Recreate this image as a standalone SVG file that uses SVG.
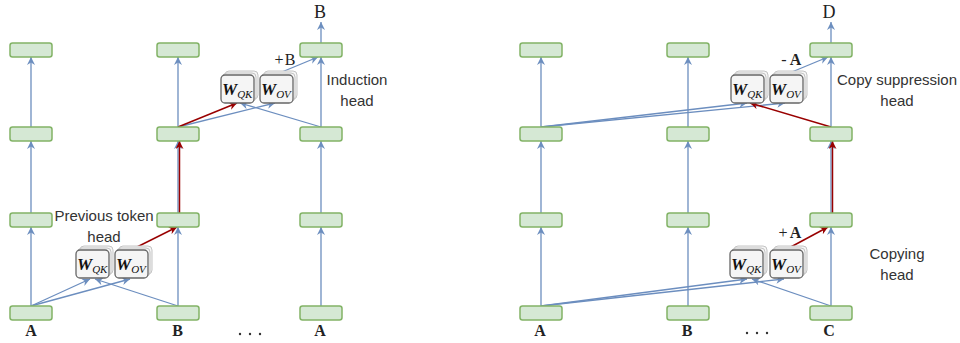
<svg xmlns="http://www.w3.org/2000/svg" width="960" height="343" viewBox="0 0 960 343">
<style>
.box{fill:#d5e8d4;stroke:#82b366;stroke-width:1.5}
.wb{fill:#f5f5f5;stroke:#666666;stroke-width:1.3}
.wbk{fill:#f5f5f5;stroke:#c4c4c4;stroke-width:1}
.b{fill:none;stroke:#6c8ebf;stroke-width:1.3}
.r{fill:none;stroke:#990000;stroke-width:1.5}
.lab{font-family:"Liberation Sans",Arial,sans-serif;font-size:15px;fill:#333333;text-anchor:middle}
.tok{font-family:"Liberation Serif","Times New Roman",serif;font-size:16px;font-weight:bold;fill:#222222;text-anchor:middle}
.out{font-family:"Liberation Serif","Times New Roman",serif;font-size:18px;fill:#222222;text-anchor:middle}
.sg{font-family:"Liberation Serif","Times New Roman",serif;font-size:16px;fill:#222222;text-anchor:middle}
.w{font-family:"Liberation Serif","Times New Roman",serif;font-size:17px;font-weight:bold;font-style:italic;fill:#111111}
.sub{font-size:11px;font-weight:normal}
.dots{fill:#333333}
</style>
<defs>
<marker id="ab" markerUnits="userSpaceOnUse" markerWidth="9" markerHeight="8" refX="8" refY="4" orient="auto">
<path d="M0,0 L8,4 L0,8 L2.5,4 z" fill="#6c8ebf"/>
</marker>
<marker id="ar" markerUnits="userSpaceOnUse" markerWidth="9" markerHeight="8" refX="8" refY="4" orient="auto">
<path d="M0,0 L8,4 L0,8 L2.5,4 z" fill="#990000"/>
</marker>
<g id="wstack">
<rect class="wbk" x="4" y="-4" width="33" height="28" rx="4"/>
<rect class="wbk" x="2" y="-2" width="33" height="28" rx="4"/>
<rect class="wb" x="0" y="0" width="33" height="28" rx="4"/>
</g>
</defs>

<g id="connectors">
<line class="b" x1="31" y1="306" x2="31" y2="227" marker-end="url(#ab)"/>
<line class="b" x1="31" y1="213" x2="31" y2="141" marker-end="url(#ab)"/>
<line class="b" x1="31" y1="127" x2="31" y2="57" marker-end="url(#ab)"/>
<line class="b" x1="178" y1="306" x2="178" y2="227" marker-end="url(#ab)"/>
<line class="b" x1="178" y1="213" x2="178" y2="141" marker-end="url(#ab)"/>
<line class="r" x1="179.5" y1="213" x2="179.5" y2="141" marker-end="url(#ar)"/>
<line class="b" x1="178" y1="127" x2="178" y2="57" marker-end="url(#ab)"/>
<line class="b" x1="321" y1="306" x2="321" y2="227" marker-end="url(#ab)"/>
<line class="b" x1="321" y1="213" x2="321" y2="141" marker-end="url(#ab)"/>
<line class="b" x1="321" y1="127" x2="321" y2="57" marker-end="url(#ab)"/>
<line class="b" x1="321" y1="43" x2="321" y2="22" marker-end="url(#ab)"/>
<line class="b" x1="31" y1="306" x2="90" y2="279" marker-end="url(#ab)"/>
<line class="b" x1="31" y1="306" x2="130" y2="279" marker-end="url(#ab)"/>
<line class="b" x1="178" y1="306" x2="95" y2="279" marker-end="url(#ab)"/>
<line class="r" x1="133" y1="249" x2="177" y2="227" marker-end="url(#ar)"/>
<line class="b" x1="178" y1="127" x2="275" y2="103" marker-end="url(#ab)"/>
<line class="b" x1="321" y1="127" x2="240" y2="103" marker-end="url(#ab)"/>
<line class="r" x1="178" y1="127" x2="237" y2="103" marker-end="url(#ar)"/>
<line class="b" x1="277" y1="74" x2="318" y2="57" marker-end="url(#ab)"/>

<line class="b" x1="541" y1="306" x2="541" y2="227" marker-end="url(#ab)"/>
<line class="b" x1="541" y1="213" x2="541" y2="141" marker-end="url(#ab)"/>
<line class="b" x1="541" y1="127" x2="541" y2="57" marker-end="url(#ab)"/>
<line class="b" x1="688" y1="306" x2="688" y2="227" marker-end="url(#ab)"/>
<line class="b" x1="688" y1="213" x2="688" y2="141" marker-end="url(#ab)"/>
<line class="b" x1="688" y1="127" x2="688" y2="57" marker-end="url(#ab)"/>
<line class="b" x1="831" y1="306" x2="831" y2="227" marker-end="url(#ab)"/>
<line class="b" x1="831" y1="213" x2="831" y2="141" marker-end="url(#ab)"/>
<line class="r" x1="832.5" y1="213" x2="832.5" y2="141" marker-end="url(#ar)"/>
<line class="b" x1="831" y1="127" x2="831" y2="57" marker-end="url(#ab)"/>
<line class="b" x1="831" y1="43" x2="831" y2="22" marker-end="url(#ab)"/>
<line class="b" x1="541" y1="306" x2="747" y2="279" marker-end="url(#ab)"/>
<line class="b" x1="541" y1="306" x2="784" y2="279" marker-end="url(#ab)"/>
<line class="b" x1="831" y1="306" x2="752" y2="279" marker-end="url(#ab)"/>
<line class="r" x1="787" y1="249" x2="828" y2="227" marker-end="url(#ar)"/>
<line class="b" x1="541" y1="127" x2="747" y2="103" marker-end="url(#ab)"/>
<line class="b" x1="541" y1="127" x2="785" y2="103" marker-end="url(#ab)"/>
<line class="r" x1="831" y1="127" x2="750" y2="103" marker-end="url(#ar)"/>
<line class="b" x1="787" y1="74" x2="828" y2="57" marker-end="url(#ab)"/>
</g>

<g id="L1r1"><rect class="box" x="10" y="43" width="42" height="14" rx="2.5"/></g>
<g id="L1r2"><rect class="box" x="10" y="127" width="42" height="14" rx="2.5"/></g>
<g id="L1r3"><rect class="box" x="10" y="213" width="42" height="14" rx="2.5"/></g>
<g id="L1r4"><rect class="box" x="10" y="306" width="42" height="14" rx="2.5"/></g>
<g id="L2r1"><rect class="box" x="157" y="43" width="42" height="14" rx="2.5"/></g>
<g id="L2r2"><rect class="box" x="157" y="127" width="42" height="14" rx="2.5"/></g>
<g id="L2r3"><rect class="box" x="157" y="213" width="42" height="14" rx="2.5"/></g>
<g id="L2r4"><rect class="box" x="157" y="306" width="42" height="14" rx="2.5"/></g>
<g id="L3r1"><rect class="box" x="300" y="43" width="42" height="14" rx="2.5"/></g>
<g id="L3r2"><rect class="box" x="300" y="127" width="42" height="14" rx="2.5"/></g>
<g id="L3r3"><rect class="box" x="300" y="213" width="42" height="14" rx="2.5"/></g>
<g id="L3r4"><rect class="box" x="300" y="306" width="42" height="14" rx="2.5"/></g>

<g id="R1r1"><rect class="box" x="520" y="43" width="42" height="14" rx="2.5"/></g>
<g id="R1r2"><rect class="box" x="520" y="127" width="42" height="14" rx="2.5"/></g>
<g id="R1r3"><rect class="box" x="520" y="213" width="42" height="14" rx="2.5"/></g>
<g id="R1r4"><rect class="box" x="520" y="306" width="42" height="14" rx="2.5"/></g>
<g id="R2r1"><rect class="box" x="667" y="43" width="42" height="14" rx="2.5"/></g>
<g id="R2r2"><rect class="box" x="667" y="127" width="42" height="14" rx="2.5"/></g>
<g id="R2r3"><rect class="box" x="667" y="213" width="42" height="14" rx="2.5"/></g>
<g id="R2r4"><rect class="box" x="667" y="306" width="42" height="14" rx="2.5"/></g>
<g id="R3r1"><rect class="box" x="810" y="43" width="42" height="14" rx="2.5"/></g>
<g id="R3r2"><rect class="box" x="810" y="127" width="42" height="14" rx="2.5"/></g>
<g id="R3r3"><rect class="box" x="810" y="213" width="42" height="14" rx="2.5"/></g>
<g id="R3r4"><rect class="box" x="810" y="306" width="42" height="14" rx="2.5"/></g>

<g id="L_WQK_low"><use href="#wstack" x="76" y="250"/><text class="w" x="77" y="270">W<tspan class="sub" dy="3">QK</tspan></text></g>
<g id="L_WOV_low"><use href="#wstack" x="115" y="250"/><text class="w" x="116" y="270">W<tspan class="sub" dy="3">OV</tspan></text></g>
<g id="L_WQK_up"><use href="#wstack" x="221" y="75"/><text class="w" x="222" y="95">W<tspan class="sub" dy="3">QK</tspan></text></g>
<g id="L_WOV_up"><use href="#wstack" x="260" y="75"/><text class="w" x="261" y="95">W<tspan class="sub" dy="3">OV</tspan></text></g>
<g id="R_WQK_up"><use href="#wstack" x="731" y="75"/><text class="w" x="732" y="95">W<tspan class="sub" dy="3">QK</tspan></text></g>
<g id="R_WOV_up"><use href="#wstack" x="770" y="75"/><text class="w" x="771" y="95">W<tspan class="sub" dy="3">OV</tspan></text></g>
<g id="R_WQK_low"><use href="#wstack" x="730" y="250"/><text class="w" x="731" y="270">W<tspan class="sub" dy="3">QK</tspan></text></g>
<g id="R_WOV_low"><use href="#wstack" x="770" y="250"/><text class="w" x="771" y="270">W<tspan class="sub" dy="3">OV</tspan></text></g>

<g id="labels">
<text class="lab" x="104" y="221">Previous token</text>
<text class="lab" x="104" y="242">head</text>
<text class="lab" x="357" y="85">Induction</text>
<text class="lab" x="357" y="106">head</text>
<text class="lab" x="897" y="85">Copy suppression</text>
<text class="lab" x="897" y="106">head</text>
<text class="lab" x="897" y="259">Copying</text>
<text class="lab" x="897" y="280">head</text>

<text class="sg" x="279" y="65">+</text>
<text class="sg" x="290" y="65">B</text>
<text class="sg" x="784" y="65">-</text>
<text class="tok" x="795.5" y="65">A</text>
<text class="sg" x="783" y="238">+</text>
<text class="tok" x="795.5" y="238">A</text>

<text class="out" x="320" y="18">B</text>
<text class="out" x="829" y="18">D</text>

<text class="tok" x="31" y="336">A</text>
<text class="tok" x="177.5" y="336">B</text>
<text class="tok" x="320" y="336">A</text>
<text class="tok" x="540" y="336">A</text>
<text class="tok" x="687" y="336">B</text>
<text class="tok" x="829" y="336">C</text>

<circle class="dots" cx="240" cy="334" r="1.2"/>
<circle class="dots" cx="250" cy="334" r="1.2"/>
<circle class="dots" cx="260" cy="334" r="1.2"/>
<circle class="dots" cx="747" cy="333" r="1.2"/>
<circle class="dots" cx="757" cy="333" r="1.2"/>
<circle class="dots" cx="767" cy="333" r="1.2"/>
</g>
</svg>
